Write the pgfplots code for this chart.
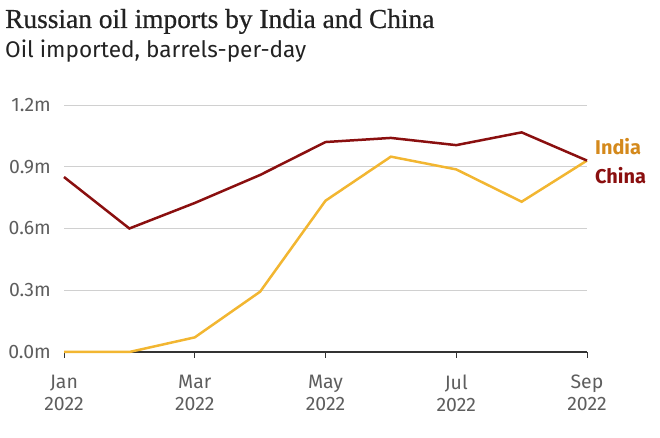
\documentclass[border=0pt]{standalone}
\usepackage{pgfplots}
\pgfplotsset{compat=1.18}
\usepackage{fontspec}
\setmainfont{Fira Sans}
\newfontfamily\titlefont[FakeBold=0.6]{Liberation Serif}
\definecolor{indiac}{HTML}{F2B631}
\definecolor{chinac}{HTML}{8A0F0F}
\definecolor{indial}{HTML}{D4891C}
\definecolor{tickc}{HTML}{5E5E5E}
\definecolor{gridc}{HTML}{D0D0D0}
\definecolor{axisc}{HTML}{333333}
\definecolor{titlec}{HTML}{222222}
\begin{document}
\begin{tikzpicture}[x=1bp,y=1bp]
\useasboundingbox (0,0) rectangle (660,438);
\node[anchor=base west, inner sep=0, text=titlec, font=\titlefont\fontsize{27.5}{30}\selectfont] at (5,410) {Russian oil imports by India and China};
\node[anchor=base west, inner sep=0, text=titlec, font=\fontsize{22.7}{26}\selectfont] at (5,380) {Oil imported, barrels-per-day};
\begin{axis}[
  at={(64bp,86bp)}, anchor=south west, scale only axis,
  width=523bp, height=247bp,
  xmin=0, xmax=8, ymin=0, ymax=1.2,
  axis x line=bottom, axis y line=left,
  x axis line style={-, draw=axisc, line width=2bp},
  y axis line style={draw=none},
  xtick={0,2,4,6,8},
  xticklabels={Jan\\2022,Mar\\2022,May\\2022,Jul\\2022,Sep\\2022},
  xtick align=outside,
  x tick style={draw=axisc, line width=1bp},
  major tick length=6bp,
  ytick={0,0.3,0.6,0.9,1.2},
  yticklabels={0.0m,0.3m,0.6m,0.9m,1.2m},
  y tick style={draw=none},
  ymajorgrids, grid style={draw=gridc, line width=0.8bp},
  xticklabel style={align=center, font=\fontsize{19.5}{22}\selectfont, text=tickc, inner sep=0, yshift=-17bp},
  yticklabel style={anchor=east, font=\fontsize{19.5}{22}\selectfont, text=tickc, inner sep=0, xshift=-10bp},
  clip=false,
]
\addplot[draw=indiac, line width=2.5bp] coordinates {
 (0,0) (1,0) (2,0.071) (3,0.293) (4,0.735) (5,0.949) (6,0.887) (7,0.73) (8,0.93)};
\addplot[draw=chinac, line width=2.5bp] coordinates {
 (0,0.85) (1,0.60) (2,0.724) (3,0.86) (4,1.02) (5,1.04) (6,1.005) (7,1.067) (8,0.93)};
\end{axis}
\node[anchor=west, inner sep=0, font=\bfseries\fontsize{20}{22}\selectfont, text=indial] at (595,291) {India};
\node[anchor=west, inner sep=0, font=\bfseries\fontsize{20}{22}\selectfont, text=chinac] at (595,262) {China};
\end{tikzpicture}
\end{document}
